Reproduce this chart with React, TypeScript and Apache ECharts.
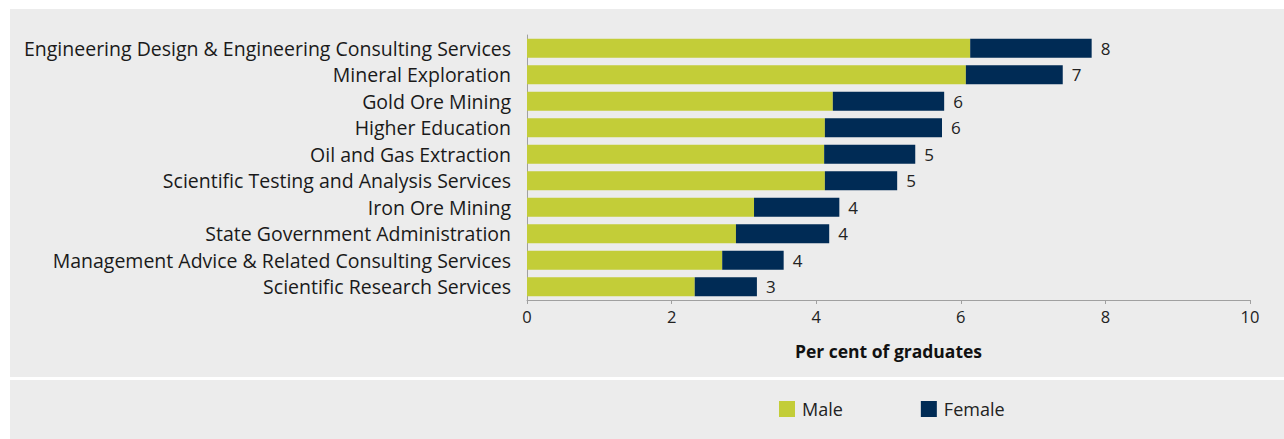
import React, { useEffect, useRef } from "react";
import * as echarts from "echarts";

const categories = [
  "Engineering Design & Engineering Consulting Services",
  "Mineral Exploration",
  "Gold Ore Mining",
  "Higher Education",
  "Oil and Gas Extraction",
  "Scientific Testing and Analysis Services",
  "Iron Ore Mining",
  "State Government Administration",
  "Management Advice & Related Consulting Services",
  "Scientific Research Services",
];
const maleValues = [6.13, 6.07, 4.23, 4.12, 4.11, 4.12, 3.14, 2.89, 2.7, 2.32];
const femaleValues = [1.68, 1.34, 1.54, 1.62, 1.26, 1.0, 1.18, 1.29, 0.85, 0.86];
const totalLabels = ["8", "7", "6", "6", "5", "5", "4", "4", "4", "3"];
const xTicks = [0, 2, 4, 6, 8, 10];

const FONT = "'Open Sans', 'Noto Sans', sans-serif";
const GREEN = "#c3cd38";
const NAVY = "#002b55";
const PANEL = "#ececec";

export default function App() {
  const ref = useRef<HTMLDivElement>(null);
  useEffect(() => {
    document.body.style.margin = "0";
    const chart = echarts.init(ref.current!, null, { renderer: "svg" });
    chart.setOption({
      animation: false,
      backgroundColor: "#ffffff",
      textStyle: { fontFamily: FONT },
      graphic: [
        { type: "rect", z: -10, silent: true, shape: { x: 10, y: 9, width: 1274, height: 368 }, style: { fill: PANEL } },
        { type: "rect", z: -10, silent: true, shape: { x: 10, y: 380, width: 1274, height: 59 }, style: { fill: PANEL } },
      ],
      grid: { left: 527, right: 34, top: 35, bottom: 139, containLabel: false },
      legend: {
        left: 779,
        top: 400,
        padding: 0,
        itemWidth: 16,
        itemHeight: 16,
        itemGap: 78,
        icon: "rect",
        textStyle: { fontFamily: FONT, fontSize: 18, color: "#222", padding: [0, 0, 0, 2] },
        data: ["Male", "Female"],
      },
      xAxis: {
        type: "value",
        min: xTicks[0],
        max: xTicks[xTicks.length - 1],
        interval: 2,
        name: "Per cent of graduates",
        nameLocation: "middle",
        nameGap: 42,
        nameTextStyle: { fontFamily: FONT, fontSize: 17.5, fontWeight: "bold", color: "#111" },
        axisLine: { show: true, lineStyle: { color: "#a0a0a0", width: 1 } },
        axisTick: { show: true, length: 4, lineStyle: { color: "#a0a0a0" } },
        splitLine: { show: false },
        axisLabel: { fontFamily: FONT, fontSize: 16.5, color: "#222", margin: 8 },
      },
      yAxis: {
        type: "category",
        inverse: true,
        data: categories,
        axisLine: { show: true, lineStyle: { color: "#a0a0a0", width: 1 } },
        axisTick: { show: false },
        axisLabel: { fontFamily: FONT, fontSize: 19.5, color: "#1a1a1a", margin: 16 },
      },
      series: [
        {
          name: "Male",
          type: "bar",
          stack: "total",
          data: maleValues,
          barWidth: 19,
          itemStyle: { color: GREEN },
        },
        {
          name: "Female",
          type: "bar",
          stack: "total",
          data: femaleValues,
          barWidth: 19,
          itemStyle: { color: NAVY },
          label: {
            show: true,
            position: "right",
            distance: 9,
            fontFamily: FONT,
            fontSize: 17,
            color: "#222",
            formatter: (p: any) => totalLabels[p.dataIndex],
          },
        },
      ],
    });
    return () => chart.dispose();
  }, []);
  return <div ref={ref} style={{ width: 1284, height: 439 }} />;
}
